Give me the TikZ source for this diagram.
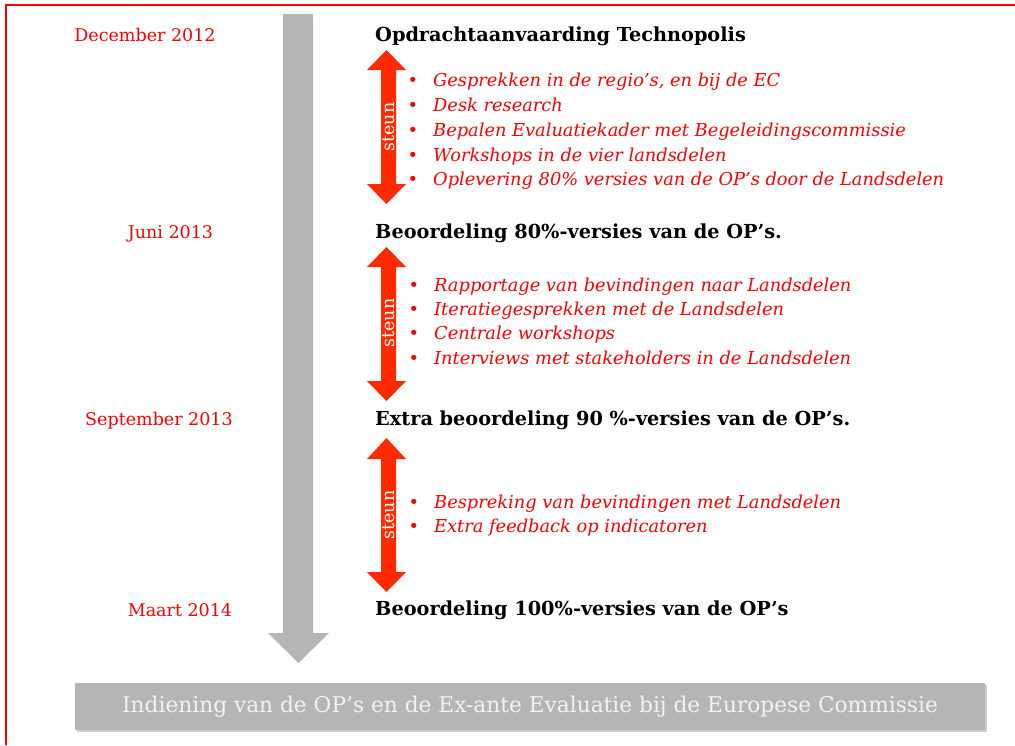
\documentclass[tikz,border=0pt]{standalone}
\usepackage{fontspec}
\setmainfont{DejaVu Serif}
\usetikzlibrary{shadows}
\definecolor{framered}{RGB}{255,0,0}
\definecolor{arrred}{RGB}{255,42,0}
\definecolor{txtred}{RGB}{255,0,0}
\definecolor{barg}{RGB}{181,181,181}
\tikzset{
  datelbl/.style={anchor=base, inner sep=0, text=txtred, font=\fontsize{17.5}{21}\selectfont},
  milestone/.style={anchor=base west, inner sep=0, font=\bfseries\fontsize{19.3}{23}\selectfont},
  itemlbl/.style={anchor=base west, inner sep=0, text=txtred, font=\itshape\fontsize{17.8}{21}\selectfont},
  steunlbl/.style={rotate=90, text=white, inner sep=0, font=\fontsize{17.5}{20}\selectfont},
  steunarrow/.style={fill=arrred},
  timeline/.style={fill=barg},
  finalbox/.style={fill=barg, minimum width=910pt, minimum height=47pt, inner sep=0,
    text=white!95!black, font=\fontsize{21.7}{25}\selectfont,
    drop shadow={shadow xshift=1.5pt, shadow yshift=-1.5pt, fill=black!40, opacity=0.5}},
}
\newcommand\bul{\llap{\normalfont•\hspace{15pt}}}
\begin{document}
\begin{tikzpicture}[x=1pt,y=-1pt]
\useasboundingbox (0,0) rectangle (1015,745);
% frame
\draw[framered, line width=2pt] (1015,5) -- (6,5) -- (6,745);
% timeline arrow
\fill[timeline] (283,14) -- (313,14) -- (313,633) -- (329,633) -- (298.5,663) -- (268,633) -- (283,633) -- cycle;
% red double arrows
\fill[steunarrow] (386.5,50) -- (406,70) -- (396,70) -- (396,184) -- (406,184) -- (386.5,204) -- (367,184) -- (381,184) -- (381,70) -- (367,70) -- cycle;
\fill[steunarrow] (386.5,247) -- (406,267) -- (396,267) -- (396,381) -- (406,381) -- (386.5,401) -- (367,381) -- (381,381) -- (381,267) -- (367,267) -- cycle;
\fill[steunarrow] (386.5,438) -- (406,459) -- (396,459) -- (396,572) -- (406,572) -- (386.5,592) -- (367,572) -- (381,572) -- (381,459) -- (367,459) -- cycle;
\node[steunlbl] (s1) at (389,127) {steun};
\node[steunlbl] (s2) at (389,323) {steun};
\node[steunlbl] (s3) at (389,515) {steun};
% dates
\node[datelbl] (d1) at (145,41) {December 2012};
\node[datelbl] (d2) at (170.5,238) {Juni 2013};
\node[datelbl] (d3) at (159,425) {September 2013};
\node[datelbl] (d4) at (180,616) {Maart 2014};
% milestones
\node[milestone] (m1) at (375,41) {Opdrachtaanvaarding Technopolis};
\node[milestone] (m2) at (375,238) {Beoordeling 80\%-versies van de OP’s.};
\node[milestone] (m3) at (375,425) {Extra beoordeling 90 \%-versies van de OP’s.};
\node[milestone] (m4) at (375,615) {Beoordeling 100\%-versies van de OP’s};
% items 1
\node[itemlbl] (a1) at (433,86.7) {\bul Gesprekken in de regio’s, en bij de EC};
\node[itemlbl] (a2) at (433,111.5) {\bul Desk research};
\node[itemlbl] (a3) at (433,136.2) {\bul Bepalen Evaluatiekader met Begeleidingscommissie};
\node[itemlbl] (a4) at (433,161) {\bul Workshops in de vier landsdelen};
\node[itemlbl] (a5) at (433,185.7) {\bul Oplevering 80\% versies van de OP’s door de Landsdelen};
% items 2
\node[itemlbl] (b1) at (434,291) {\bul Rapportage van bevindingen naar Landsdelen};
\node[itemlbl] (b2) at (434,315.4) {\bul Iteratiegesprekken met de Landsdelen};
\node[itemlbl] (b3) at (434,339.8) {\bul Centrale workshops};
\node[itemlbl] (b4) at (434,364.2) {\bul Interviews met stakeholders in de Landsdelen};
% items 3
\node[itemlbl] (c1) at (434,508.3) {\bul Bespreking van bevindingen met Landsdelen};
\node[itemlbl] (c2) at (434,532.5) {\bul Extra feedback op indicatoren};
% final box
\node[finalbox] (fin) at (530,706.5) {Indiening van de OP’s en de Ex-ante Evaluatie bij de Europese Commissie};
\end{tikzpicture}
\end{document}
